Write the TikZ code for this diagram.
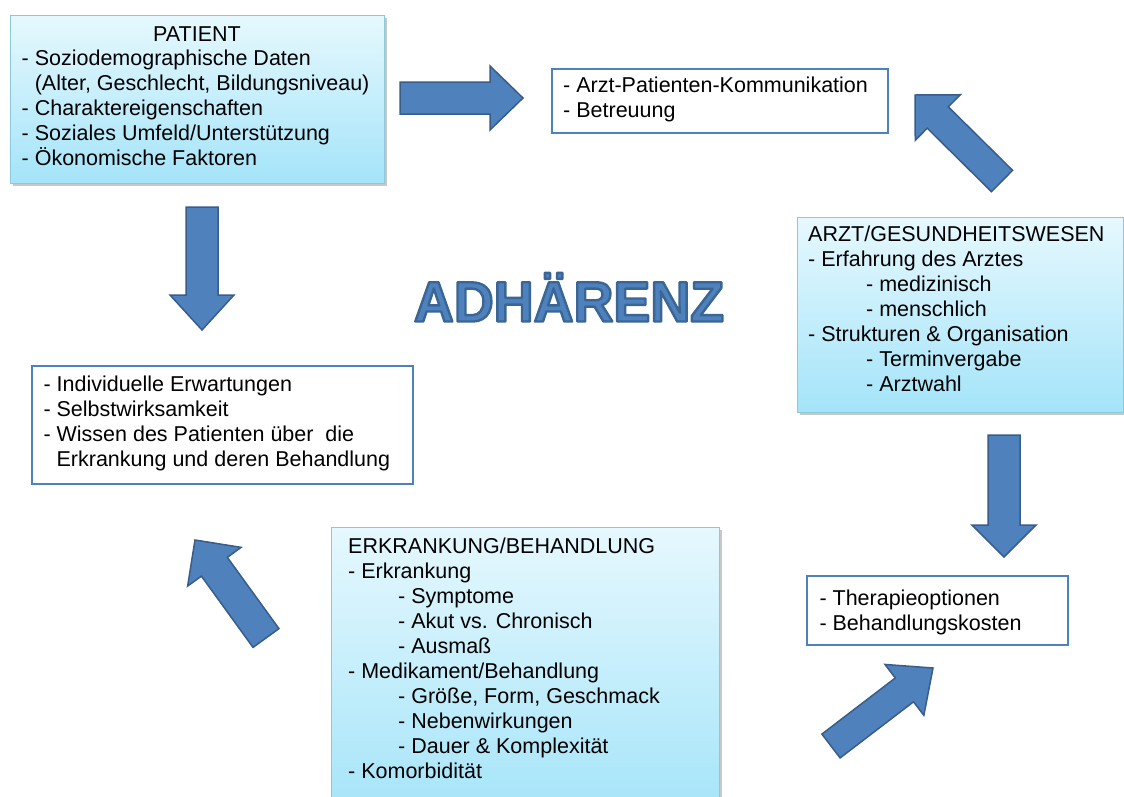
\documentclass[tikz,border=0pt]{standalone}
\usepackage{fontspec}
\setmainfont{Liberation Sans}
\newfontfamily\adhfont[FakeStretch=0.97]{Liberation Sans}
\usetikzlibrary{calc,shadows}
\definecolor{arrowfill}{HTML}{4F81BD}
\definecolor{arrowline}{HTML}{385D8A}
\definecolor{cyantop}{HTML}{E6F8FE}
\definecolor{cyanbot}{HTML}{A4E4F9}
\definecolor{cyanline}{HTML}{8CC8DC}
\definecolor{adhline}{HTML}{3A6696}
\newcommand\BlkArrow[4]{%
  \coordinate (#1-h) at ($(#1-p)!#4!(#1-t)$);
  \draw[barrow] ($(#1-t)!#2!90:(#1-p)$) -- ($(#1-h)!#2!90:(#1-p)$) -- ($(#1-h)!#3!90:(#1-p)$) -- (#1-p) -- ($(#1-h)!#3!-90:(#1-p)$) -- ($(#1-h)!#2!-90:(#1-p)$) -- ($(#1-t)!#2!-90:(#1-p)$) -- cycle;}
\newcommand\OutlinedText[1]{%
  \special{pdf:literal direct 0.227 0.4 0.588 RG 2.4 w 1 j 2 Tr}#1\special{pdf:literal direct 0 Tr}}
\tikzset{
  cyanbox/.style={draw=cyanline, line width=1pt, top color=cyantop, bottom color=cyanbot,
    drop shadow={shadow xshift=2.5pt, shadow yshift=-2.5pt, opacity=.3, fill=black!70},
    inner sep=0pt, anchor=north west},
  whitebox/.style={draw=arrowfill, line width=2pt, fill=white, inner sep=0pt, anchor=north west},
  txt/.style={anchor=north west, align=left, inner sep=0pt, font=\fontsize{21.5}{25}\selectfont},
  ttl/.style={anchor=base, inner sep=0pt, font=\fontsize{21.5}{25}\selectfont},
  barrow/.style={fill=arrowfill, draw=arrowline, line width=1.5pt, line join=miter},
  adh/.style={anchor=base, inner sep=0pt, font=\adhfont\bfseries\fontsize{57}{60}\selectfont}
}
\begin{document}
\begin{tikzpicture}[x=1pt,y=-1pt]
\useasboundingbox (0,0) rectangle (1124,796);
\clip (0,0) rectangle (1124,796);
\fill[white] (0,0) rectangle (1124,796);

% boxes
\node[cyanbox, minimum width=374pt, minimum height=168pt] (patient) at (10,15) {};
\node[whitebox, minimum width=336pt, minimum height=64pt] (kommu) at (551,68) {};
\node[cyanbox, minimum width=326pt, minimum height=195pt] (arzt) at (797,217) {};
\node[whitebox, minimum width=381pt, minimum height=118pt] (indiv) at (31,365) {};
\node[whitebox, minimum width=261pt, minimum height=69pt] (thera) at (806,575) {};
\node[cyanbox, minimum width=388pt, minimum height=290pt] (erkr) at (331,527) {};

% texts
\node[ttl] (patient-title) at (197,41.5) {PATIENT};
\node[txt] (patient-text) at (21.5,48.2) {\strut- Soziodemographische Daten\\
  \hphantom{- }(Alter, Geschlecht, Bildungsniveau)\\
  - Charaktereigenschaften\\
  - Soziales Umfeld/Unterstützung\\
  - Ökonomische Faktoren};
\node[txt] (kommu-text) at (563,74.8) {\strut- Arzt-Patienten-Kommunikation\\- Betreuung};
\node[txt] (arzt-text) at (808,224.2) {\strut ARZT/GESUNDHEITSWESEN\\
  - Erfahrung des Arztes\\
  \hspace*{58pt}- medizinisch\\
  \hspace*{58pt}- menschlich\\
  - Strukturen \& Organisation\\
  \hspace*{58pt}- Terminvergabe\\
  \hspace*{58pt}- Arztwahl};
\node[txt] (indiv-text) at (43.3,374.2) {\strut- Individuelle Erwartungen\\
  - Selbstwirksamkeit\\
  - Wissen des Patienten über\ \ die\\
  \hphantom{- }Erkrankung und deren Behandlung};
\node[txt] (thera-text) at (819.3,587.5) {\strut- Therapieoptionen\\- Behandlungskosten};
\node[txt] (erkr-text) at (348,535.8) {\strut ERKRANKUNG/BEHANDLUNG\\
  - Erkrankung\\
  \hspace*{50pt}- Symptome\\
  \hspace*{50pt}- Akut vs. Chronisch\\
  \hspace*{50pt}- Ausmaß\\
  - Medikament/Behandlung\\
  \hspace*{50pt}- Größe, Form, Geschmack\\
  \hspace*{50pt}- Nebenwirkungen\\
  \hspace*{50pt}- Dauer \& Komplexität\\
  - Komorbidität};

% block arrows
\coordinate (a1-t) at (400,98);   \coordinate (a1-p) at (523,98);
\coordinate (a2-t) at (1002,181); \coordinate (a2-p) at (915,95);
\coordinate (a3-t) at (1004,435); \coordinate (a3-p) at (1004,557);
\coordinate (a4-t) at (831,746);  \coordinate (a4-p) at (933,668);
\coordinate (a5-t) at (266,638);  \coordinate (a5-p) at (195,540);
\coordinate (a6-t) at (202,207);  \coordinate (a6-p) at (202,330);
\BlkArrow{a1}{16pt}{32pt}{33pt}
\BlkArrow{a2}{15pt}{32pt}{32pt}
\BlkArrow{a3}{16pt}{32pt}{32pt}
\BlkArrow{a4}{15pt}{32pt}{36pt}
\BlkArrow{a5}{16pt}{33pt}{33pt}
\BlkArrow{a6}{16pt}{32pt}{35pt}

% title
\node[adh, text=arrowfill] (adh) at (569,321.5) {\OutlinedText{ADHÄRENZ}};
\end{tikzpicture}
\end{document}
